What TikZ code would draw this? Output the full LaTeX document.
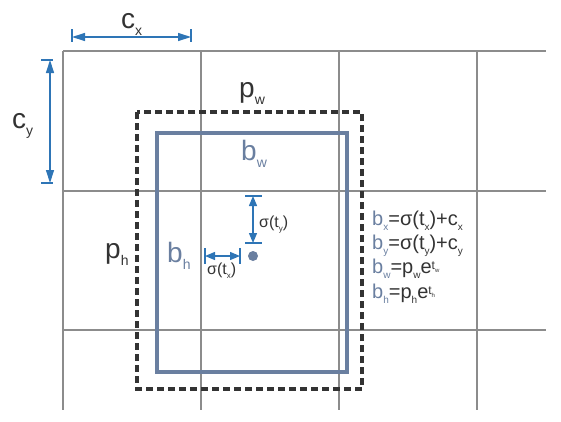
\documentclass[tikz,border=0pt]{standalone}
\usepackage{fontspec}
\setmainfont{Liberation Sans}
\usetikzlibrary{arrows.meta}
\definecolor{bcol}{HTML}{6A7FA0}
\definecolor{acol}{HTML}{2E75B6}
\definecolor{tcol}{HTML}{333333}
\definecolor{gcol}{HTML}{8C8C8C}
\newcommand\lo[1]{\raisebox{-0.28em}{\scalebox{0.5}{#1}}}
\newcommand\hi[1]{\raisebox{0.2em}{\scalebox{0.6}{#1}}}
\begin{document}
\begin{tikzpicture}[x=1pt,y=-1pt,
  grid/.style={gcol, line width=1.1pt},
  dim/.style={acol, line width=1.3pt, {Triangle[length=13pt,width=8pt]}-{Triangle[length=13pt,width=8pt]}},
  sdim/.style={acol, line width=1.3pt, {Triangle[length=10pt,width=8pt]}-{Triangle[length=10pt,width=8pt]}},
  tickmark/.style={acol, line width=1.3pt},
  big/.style={inner sep=0, anchor=base west, font=\fontsize{28}{28}\selectfont, text=tcol},
  small/.style={inner sep=0, anchor=base west, font=\fontsize{16}{16}\selectfont, text=tcol},
  eq/.style={inner sep=0, anchor=base west, font=\fontsize{20}{20}\selectfont, text=tcol}]
\useasboundingbox (0,0) rectangle (561,421);
% grid
\foreach \x in {63,201,339,477} \draw[grid] (\x,51) -- (\x,410);
\foreach \y in {51,191,330} \draw[grid] (63,\y) -- (546,\y);
% boxes
\draw[bcol, line width=3.3pt] (157,133) rectangle (347,372);
\draw[tcol, line width=3.2pt, dash pattern=on 7pt off 4pt] (137,112) rectangle (362,389);
% c_x dimension
\coordinate (cxa) at (72,37);
\coordinate (cxb) at (191,37);
\draw[tickmark] (72,29) -- (72,42);
\draw[tickmark] (191,29) -- (191,42);
\draw[dim] (cxa) -- (cxb);
% c_y dimension
\coordinate (cya) at (50,60);
\coordinate (cyb) at (50,183);
\draw[tickmark] (41,60) -- (53,60);
\draw[tickmark] (41,183) -- (53,183);
\draw[dim] (cya) -- (cyb);
% sigma(t_y)
\coordinate (sya) at (253,196);
\coordinate (syb) at (253,243);
\draw[tickmark] (245,196) -- (262,196);
\draw[tickmark] (245,243) -- (262,243);
\draw[sdim] (sya) -- (syb);
% sigma(t_x)
\coordinate (sxa) at (205,256);
\coordinate (sxb) at (240,256);
\draw[tickmark] (205,248) -- (205,264);
\draw[tickmark] (240,248) -- (240,264);
\draw[sdim] (sxa) -- (sxb);
% centre
\node[circle, fill=bcol, minimum size=10pt, inner sep=0] (ctr) at (253,256) {};
% labels
\node[big] (cx) at (121,28) {c\lo{x}};
\node[big] (cy) at (12,128) {c\lo{y}};
\node[big] (pw) at (239,97) {p\lo{w}};
\node[big, text=bcol] (bw) at (241,160) {b\lo{w}};
\node[big] (ph) at (105,258) {p\lo{h}};
\node[big, text=bcol] (bh) at (167,262) {b\lo{h}};
\node[small] (sy) at (259,227) {σ(t\lo{y})};
\node[small] (sx) at (207,274) {σ(t\lo{x})};
% equations
\node[eq] (e1) at (372,225) {{\color{bcol}b\lo{x}}=σ(t\lo{x})+c\lo{x}};
\node[eq] (e2) at (372,249) {{\color{bcol}b\lo{y}}=σ(t\lo{y})+c\lo{y}};
\node[eq] (e3) at (372,273) {{\color{bcol}b\lo{w}}=p\lo{w}e\hi{t\lo{w}}};
\node[eq] (e4) at (372,298) {{\color{bcol}b\lo{h}}=p\lo{h}e\hi{t\lo{h}}};
\end{tikzpicture}
\end{document}
